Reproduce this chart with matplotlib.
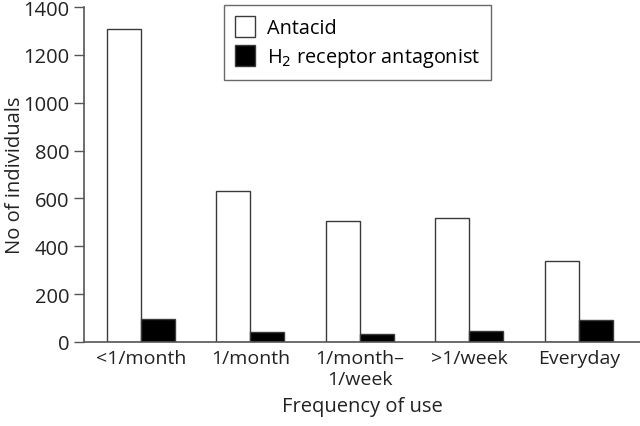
import matplotlib
matplotlib.use("Agg")
import matplotlib.pyplot as plt
import numpy as np

#--------------------------------------------------
#datos

categorias = ["<1/month", "1/month", "1/month\u2013\n1/week", ">1/week", "Everyday"]
antacid = [1310, 630, 505, 520, 337]
h2_antagonist = [96, 40, 35, 45, 90]
y_ticks = [0, 200, 400, 600, 800, 1000, 1200, 1400]

#--------------------------------------------------
#figura

plt.rcParams['font.family'] = ['Open Sans', 'DejaVu Sans']
fig = plt.figure(figsize=(6.4, 4.27), dpi=100)
ax = fig.add_axes([0.131, 0.197, 0.869, 0.784])

x = np.arange(len(categorias))
w = 0.31
edge = "#3a3a3a"

ax.bar(x - w/2, antacid, w, color="white", edgecolor=edge, linewidth=1, label="Antacid")
ax.bar(x + w/2, h2_antagonist, w, color="black", edgecolor=edge, linewidth=1,
       label="H$_2$ receptor antagonist")

ax.set_xlim(-0.52, 4.56)
ax.set_ylim(0, 1400)
ax.set_yticks(y_ticks)
ax.set_xticks(x)
ax.set_xticklabels(categorias, fontsize=14, color="#222222")
ax.tick_params(axis="x", length=0, pad=5)
ax.tick_params(axis="y", labelsize=14.5, labelcolor="#222222", length=7, width=1, color="#555555")

for lado in ["top", "right"]:
    ax.spines[lado].set_visible(False)
for lado in ["left", "bottom"]:
    ax.spines[lado].set_color("#555555")
    ax.spines[lado].set_linewidth(1.2)

ax.set_ylabel("No of individuals", fontsize=14.5, color="#222222")
ax.yaxis.set_label_coords(-0.106, 0.5)
ax.set_xlabel("Frequency of use", fontsize=14.5, color="#222222", labelpad=6)

leg = ax.legend(loc="upper left", bbox_to_anchor=(0.252, 1.005), borderaxespad=0,
                fontsize=14.3, frameon=True, fancybox=False, edgecolor="#444444",
                handlelength=1.0, handleheight=1.2, handletextpad=0.6,
                borderpad=0.55, labelspacing=0.35)
leg.get_frame().set_linewidth(1)

fig.savefig("out.png", dpi=100)
